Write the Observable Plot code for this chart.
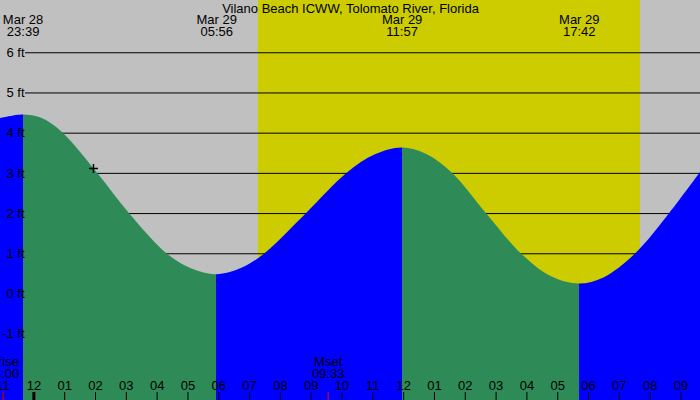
<!DOCTYPE html>
<html><head><meta charset="utf-8">
<script src="https://cdn.jsdelivr.net/npm/d3@7"></script>
<script src="https://cdn.jsdelivr.net/npm/@observablehq/plot@0.6"></script>
<style>body{margin:0;background:#c0c0c0;} #chart svg{display:block}</style>
</head><body><div id="chart"></div>
<script>
const title = "Vilano Beach ICWW, Tolomato River, Florida";
// tide series (time, feet); extremes included
const tideTimes = ["03-28 22:55","03-28 23:39","03-29 00:15","03-29 00:57","03-29 02:04","03-29 03:06","03-29 04:19","03-29 05:08","03-29 05:56",
  "03-29 06:45","03-29 07:30","03-29 08:51","03-29 10:10","03-29 11:05","03-29 11:57",
  "03-29 12:45","03-29 13:35","03-29 14:41","03-29 15:49","03-29 16:48","03-29 17:42",
  "03-29 18:30","03-29 19:32","03-29 20:38","03-29 21:38"];
const tideHeights = [4.36,4.45,4.37,4.0,3.0,2.0,1.0,0.62,0.48,
  0.64,1.0,2.0,3.0,3.46,3.63,
  3.47,3.0,2.0,1.0,0.43,0.25,
  0.40,1.0,2.0,3.02];
const extremeTimes = ["03-28 23:39","03-29 05:56","03-29 11:57","03-29 17:42"];
const extremeDates = ["Mar 28","Mar 29","Mar 29","Mar 29"];
const extremeLabels = ["23:39","05:56","11:57","17:42"];
const gridFeet = [-1,0,1,2,3,4,5,6];
const hourTicks = ["03-28 23:00","03-29 00:00","03-29 01:00","03-29 02:00","03-29 03:00","03-29 04:00","03-29 05:00","03-29 06:00",
  "03-29 07:00","03-29 08:00","03-29 09:00","03-29 10:00","03-29 11:00","03-29 12:00","03-29 13:00","03-29 14:00",
  "03-29 15:00","03-29 16:00","03-29 17:00","03-29 18:00","03-29 19:00","03-29 20:00","03-29 21:00"];
const hourLabels = ["11","12","01","02","03","04","05","06","07","08","09","10","11","12","01","02","03","04","05","06","07","08","09"];
const sunrise = "03-29 07:17", sunset = "03-29 19:41";
const moonNames = ["Mrise","Mset"];
const moonTimes = ["03-28 23:00","03-29 09:33"];
const moonLabels = ["23:00","09:33"];
const nowTime = "03-29 01:56", nowHeight = 3.12;
const viewStart = "03-28 22:55", viewEnd = "03-29 21:38";
const feetDomain = [-2.65, 7.3];
const risingColor = "#0000ff", fallingColor = "#2e8b57";

const hrs = s => { const [md, hm] = s.split(" "); const day = +md.split("-")[1]; const [h, m] = hm.split(":").map(Number); return (day - 29) * 24 + h + m / 60; };

const pts = tideTimes.map((s, i) => ({t: hrs(s), h: tideHeights[i]}));
// boundaries between rising / falling stretches, and each stretch's colour
const bounds = [hrs(viewStart), ...extremeTimes.map(hrs), hrs(viewEnd)];
const hAt = t => { const p = pts.find(q => Math.abs(q.t - t) < 1e-9); return p ? p.h : null; };
const stretchColors = [];
for (let k = 0; k < bounds.length - 1; k++) {
  const a = hAt(bounds[k]), b = hAt(bounds[k + 1]);
  stretchColors.push(b > a ? risingColor : fallingColor);
}
const extremes = extremeTimes.map((s, i) => ({t: hrs(s), label: extremeDates[i] + "\n" + extremeLabels[i]}));
const hours = hourTicks.map((s, i) => ({t: hrs(s), label: hourLabels[i], midnight: s.endsWith("00:00")}));
const moons = moonTimes.map((s, i) => ({t: hrs(s), label: moonNames[i] + "\n" + moonLabels[i]}));

const plusSymbol = {draw(ctx, size) { const r = Math.sqrt(size / Math.PI); ctx.moveTo(-r, 0); ctx.lineTo(r, 0); ctx.moveTo(0, -r); ctx.lineTo(0, r); }};

// gradient with hard stops at each extreme, positioned with the x scale
const gradientMark = (index, scales, values, dimensions) => {
  const g = d3.create("svg:g");
  const lg = g.append("defs").append("linearGradient")
    .attr("id", "tideFill").attr("gradientUnits", "userSpaceOnUse")
    .attr("x1", 0).attr("x2", dimensions.width).attr("y1", 0).attr("y2", 0);
  for (let k = 0; k < stretchColors.length; k++) {
    const o1 = Math.max(0, Math.min(1, scales.x(bounds[k]) / dimensions.width));
    const o2 = Math.max(0, Math.min(1, scales.x(bounds[k + 1]) / dimensions.width));
    lg.append("stop").attr("offset", o1).attr("stop-color", stretchColors[k]);
    lg.append("stop").attr("offset", o2).attr("stop-color", stretchColors[k]);
  }
  return g.node();
};

const chart = Plot.plot({
  width: 700, height: 400,
  margin: 0,
  x: {domain: [hrs(viewStart), hrs(viewEnd)], axis: null},
  y: {domain: feetDomain, axis: null},
  style: {fontFamily: "'Liberation Sans', Arial, sans-serif", fontSize: "13px", background: "#c0c0c0", color: "black"},
  marks: [
    Plot.frame({fill: "#c0c0c0", stroke: null}),
    Plot.rect([{a: hrs(sunrise), b: hrs(sunset)}], {x1: "a", x2: "b", fill: "#cccc00"}),
    Plot.ruleY(gridFeet, {y: d => d, stroke: "black", insetLeft: 25}),
    gradientMark,
    Plot.areaY(pts, {x: "t", y1: feetDomain[0], y2: "h", fill: "url(#tideFill)", curve: "catmull-rom"}),
    Plot.text(gridFeet, {y: d => d, text: d => `${d} ft`, frameAnchor: "left", textAnchor: "end", dx: 24, fill: "black"}),
    Plot.text([title], {text: d => d, frameAnchor: "top", lineAnchor: "top", dy: 2.8, fill: "black"}),
    Plot.text(extremes, {x: "t", text: "label", frameAnchor: "top", lineAnchor: "top", dy: 14.8, lineHeight: 0.92, fill: "black"}),
    Plot.ruleX(hours, {x: "t", insetTop: 392, stroke: "black", strokeWidth: d => d.midnight ? 3 : 1}),
    Plot.ruleX(moons, {x: "t", insetTop: 392, stroke: "red"}),
    Plot.text(hours, {x: "t", text: "label", frameAnchor: "bottom", lineAnchor: "bottom", dy: -11, fill: "black"}),
    Plot.text(moons, {x: "t", text: "label", frameAnchor: "bottom", lineAnchor: "bottom", dy: -22.3, lineHeight: 0.92, fill: "black"}),
    Plot.dot([{t: hrs(nowTime), h: nowHeight}], {x: "t", y: "h", r: 4.5, symbol: plusSymbol, stroke: "black", fill: "none"})
  ]
});
document.getElementById("chart").appendChild(chart);
</script></body></html>
